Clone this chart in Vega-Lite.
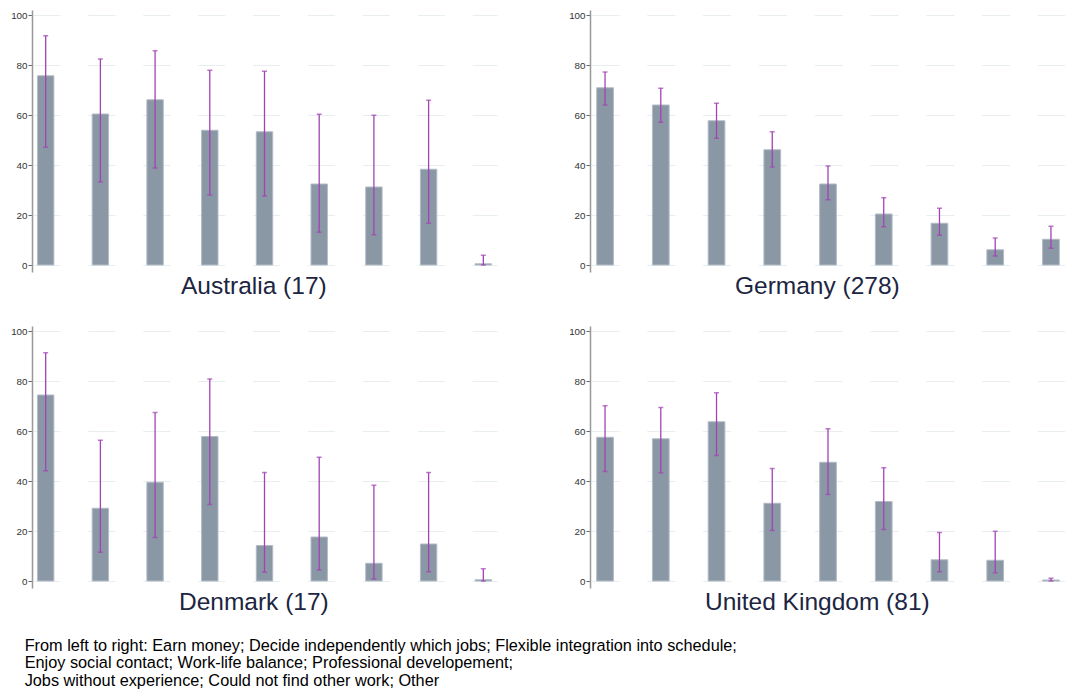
{
  "$schema": "https://vega.github.io/schema/vega-lite/v6.json",
  "background": "white",
  "padding": {"left": 10, "top": 9, "right": 0, "bottom": 0},
  "title": {
    "text": [
      "From left to right: Earn money; Decide independently which jobs; Flexible integration into schedule;",
      "Enjoy social contact; Work-life balance; Professional developement;",
      "Jobs without experience; Could not find other work; Other"
    ],
    "orient": "bottom", "anchor": "start", "frame": "bounds",
    "font": "Liberation Sans", "fontSize": 16.3, "fontWeight": "normal", "color": "#000000",
    "lineHeight": 17.8, "offset": 23, "dx": 14
  },
  "data": {"values": [
    {"country": "Australia", "reason": "Earn money", "pct": 75.7, "lo": 47.1, "hi": 91.7},
    {"country": "Australia", "reason": "Decide independently which jobs", "pct": 60.4, "lo": 33.2, "hi": 82.4},
    {"country": "Australia", "reason": "Flexible integration into schedule", "pct": 66.1, "lo": 38.8, "hi": 85.7},
    {"country": "Australia", "reason": "Enjoy social contact", "pct": 53.9, "lo": 28.0, "hi": 77.9},
    {"country": "Australia", "reason": "Work-life balance", "pct": 53.3, "lo": 27.6, "hi": 77.5},
    {"country": "Australia", "reason": "Professional developement", "pct": 32.4, "lo": 13.1, "hi": 60.3},
    {"country": "Australia", "reason": "Jobs without experience", "pct": 31.2, "lo": 12.1, "hi": 59.9},
    {"country": "Australia", "reason": "Could not find other work", "pct": 38.3, "lo": 16.7, "hi": 65.9},
    {"country": "Australia", "reason": "Other", "pct": 0.5, "lo": 0.0, "hi": 3.9},
    {"country": "Germany", "reason": "Earn money", "pct": 70.9, "lo": 64.0, "hi": 77.2},
    {"country": "Germany", "reason": "Decide independently which jobs", "pct": 64.0, "lo": 57.1, "hi": 70.7},
    {"country": "Germany", "reason": "Flexible integration into schedule", "pct": 57.7, "lo": 50.7, "hi": 64.7},
    {"country": "Germany", "reason": "Enjoy social contact", "pct": 46.1, "lo": 39.2, "hi": 53.3},
    {"country": "Germany", "reason": "Work-life balance", "pct": 32.4, "lo": 26.1, "hi": 39.6},
    {"country": "Germany", "reason": "Professional developement", "pct": 20.4, "lo": 15.3, "hi": 26.9},
    {"country": "Germany", "reason": "Jobs without experience", "pct": 16.7, "lo": 11.9, "hi": 22.7},
    {"country": "Germany", "reason": "Could not find other work", "pct": 6.1, "lo": 3.6, "hi": 10.8},
    {"country": "Germany", "reason": "Other", "pct": 10.3, "lo": 6.7, "hi": 15.5},
    {"country": "Denmark", "reason": "Earn money", "pct": 74.4, "lo": 44.1, "hi": 91.3},
    {"country": "Denmark", "reason": "Decide independently which jobs", "pct": 29.1, "lo": 11.5, "hi": 56.3},
    {"country": "Denmark", "reason": "Flexible integration into schedule", "pct": 39.5, "lo": 17.4, "hi": 67.4},
    {"country": "Denmark", "reason": "Enjoy social contact", "pct": 57.8, "lo": 30.6, "hi": 80.8},
    {"country": "Denmark", "reason": "Work-life balance", "pct": 14.2, "lo": 3.5, "hi": 43.4},
    {"country": "Denmark", "reason": "Professional developement", "pct": 17.6, "lo": 4.4, "hi": 49.5},
    {"country": "Denmark", "reason": "Jobs without experience", "pct": 7.1, "lo": 0.8, "hi": 38.3},
    {"country": "Denmark", "reason": "Could not find other work", "pct": 14.8, "lo": 3.7, "hi": 43.4},
    {"country": "Denmark", "reason": "Other", "pct": 0.5, "lo": 0.0, "hi": 4.9},
    {"country": "United Kingdom", "reason": "Earn money", "pct": 57.5, "lo": 43.8, "hi": 70.1},
    {"country": "United Kingdom", "reason": "Decide independently which jobs", "pct": 56.9, "lo": 43.3, "hi": 69.4},
    {"country": "United Kingdom", "reason": "Flexible integration into schedule", "pct": 63.7, "lo": 50.2, "hi": 75.3},
    {"country": "United Kingdom", "reason": "Enjoy social contact", "pct": 31.1, "lo": 20.2, "hi": 45.0},
    {"country": "United Kingdom", "reason": "Work-life balance", "pct": 47.5, "lo": 34.6, "hi": 60.9},
    {"country": "United Kingdom", "reason": "Professional developement", "pct": 31.8, "lo": 20.6, "hi": 45.3},
    {"country": "United Kingdom", "reason": "Jobs without experience", "pct": 8.5, "lo": 3.7, "hi": 19.4},
    {"country": "United Kingdom", "reason": "Could not find other work", "pct": 8.3, "lo": 3.3, "hi": 19.9},
    {"country": "United Kingdom", "reason": "Other", "pct": 0.4, "lo": 0.0, "hi": 1.1}
  ]},
  "spacing": 26,
  "vconcat": [
    {"hconcat": [
      {
        "width": 465, "height": 262,
        "title": {"text": "Australia (17)"},
        "transform": [{"filter": "datum.country === 'Australia'"}],
        "encoding": {"x": {"field": "reason", "type": "nominal", "sort": null, "scale": {"paddingInner": 0.7, "paddingOuter": 0.1}, "axis": null}},
        "layer": [
          {"mark": {"type": "bar", "fill": "#8a97a5", "stroke": "#b3bcc6", "strokeWidth": 1},
           "encoding": {"y": {"field": "pct", "type": "quantitative", "scale": {"domain": [-2.8, 102], "nice": false, "zero": false}, "axis": {"title": null, "gridDash": [27, 27.9], "gridDashOffset": 53.9}}, "y2": {"datum": 0}}},
          {"mark": {"type": "rule", "color": "#a243b4", "strokeWidth": 1.3},
           "encoding": {"y": {"field": "lo", "type": "quantitative", "axis": {"title": null, "gridDash": [27, 27.9], "gridDashOffset": 53.9}}, "y2": {"field": "hi"}}},
          {"mark": {"type": "tick", "orient": "horizontal", "color": "#a243b4", "size": 5, "thickness": 1.5},
           "encoding": {"y": {"field": "lo", "type": "quantitative", "axis": {"title": null, "gridDash": [27, 27.9], "gridDashOffset": 53.9}}}},
          {"mark": {"type": "tick", "orient": "horizontal", "color": "#a243b4", "size": 5, "thickness": 1.5},
           "encoding": {"y": {"field": "hi", "type": "quantitative", "axis": {"title": null, "gridDash": [27, 27.9], "gridDashOffset": 53.9}}}}
        ]
      },
      {
        "width": 476, "height": 262,
        "title": {"text": "Germany (278)"},
        "transform": [{"filter": "datum.country === 'Germany'"}],
        "encoding": {"x": {"field": "reason", "type": "nominal", "sort": null, "scale": {"paddingInner": 0.7, "paddingOuter": 0.12}, "axis": null}},
        "layer": [
          {"mark": {"type": "bar", "fill": "#8a97a5", "stroke": "#b3bcc6", "strokeWidth": 1},
           "encoding": {"y": {"field": "pct", "type": "quantitative", "scale": {"domain": [-2.8, 102], "nice": false, "zero": false}, "axis": {"title": null, "gridDash": [28, 27.8], "gridDashOffset": 54.8}}, "y2": {"datum": 0}}},
          {"mark": {"type": "rule", "color": "#a243b4", "strokeWidth": 1.3},
           "encoding": {"y": {"field": "lo", "type": "quantitative", "axis": {"title": null, "gridDash": [28, 27.8], "gridDashOffset": 54.8}}, "y2": {"field": "hi"}}},
          {"mark": {"type": "tick", "orient": "horizontal", "color": "#a243b4", "size": 5, "thickness": 1.5},
           "encoding": {"y": {"field": "lo", "type": "quantitative", "axis": {"title": null, "gridDash": [28, 27.8], "gridDashOffset": 54.8}}}},
          {"mark": {"type": "tick", "orient": "horizontal", "color": "#a243b4", "size": 5, "thickness": 1.5},
           "encoding": {"y": {"field": "hi", "type": "quantitative", "axis": {"title": null, "gridDash": [28, 27.8], "gridDashOffset": 54.8}}}}
        ]
      }
    ], "spacing": 71},
    {"hconcat": [
      {
        "width": 465, "height": 262,
        "title": {"text": "Denmark (17)"},
        "transform": [{"filter": "datum.country === 'Denmark'"}],
        "encoding": {"x": {"field": "reason", "type": "nominal", "sort": null, "scale": {"paddingInner": 0.7, "paddingOuter": 0.1}, "axis": null}},
        "layer": [
          {"mark": {"type": "bar", "fill": "#8a97a5", "stroke": "#b3bcc6", "strokeWidth": 1},
           "encoding": {"y": {"field": "pct", "type": "quantitative", "scale": {"domain": [-2.8, 102], "nice": false, "zero": false}, "axis": {"title": null, "gridDash": [27, 27.9], "gridDashOffset": 53.9}}, "y2": {"datum": 0}}},
          {"mark": {"type": "rule", "color": "#a243b4", "strokeWidth": 1.3},
           "encoding": {"y": {"field": "lo", "type": "quantitative", "axis": {"title": null, "gridDash": [27, 27.9], "gridDashOffset": 53.9}}, "y2": {"field": "hi"}}},
          {"mark": {"type": "tick", "orient": "horizontal", "color": "#a243b4", "size": 5, "thickness": 1.5},
           "encoding": {"y": {"field": "lo", "type": "quantitative", "axis": {"title": null, "gridDash": [27, 27.9], "gridDashOffset": 53.9}}}},
          {"mark": {"type": "tick", "orient": "horizontal", "color": "#a243b4", "size": 5, "thickness": 1.5},
           "encoding": {"y": {"field": "hi", "type": "quantitative", "axis": {"title": null, "gridDash": [27, 27.9], "gridDashOffset": 53.9}}}}
        ]
      },
      {
        "width": 476, "height": 262,
        "title": {"text": "United Kingdom (81)"},
        "transform": [{"filter": "datum.country === 'United Kingdom'"}],
        "encoding": {"x": {"field": "reason", "type": "nominal", "sort": null, "scale": {"paddingInner": 0.7, "paddingOuter": 0.12}, "axis": null}},
        "layer": [
          {"mark": {"type": "bar", "fill": "#8a97a5", "stroke": "#b3bcc6", "strokeWidth": 1},
           "encoding": {"y": {"field": "pct", "type": "quantitative", "scale": {"domain": [-2.8, 102], "nice": false, "zero": false}, "axis": {"title": null, "gridDash": [28, 27.8], "gridDashOffset": 54.8}}, "y2": {"datum": 0}}},
          {"mark": {"type": "rule", "color": "#a243b4", "strokeWidth": 1.3},
           "encoding": {"y": {"field": "lo", "type": "quantitative", "axis": {"title": null, "gridDash": [28, 27.8], "gridDashOffset": 54.8}}, "y2": {"field": "hi"}}},
          {"mark": {"type": "tick", "orient": "horizontal", "color": "#a243b4", "size": 5, "thickness": 1.5},
           "encoding": {"y": {"field": "lo", "type": "quantitative", "axis": {"title": null, "gridDash": [28, 27.8], "gridDashOffset": 54.8}}}},
          {"mark": {"type": "tick", "orient": "horizontal", "color": "#a243b4", "size": 5, "thickness": 1.5},
           "encoding": {"y": {"field": "hi", "type": "quantitative", "axis": {"title": null, "gridDash": [28, 27.8], "gridDashOffset": 54.8}}}}
        ]
      }
    ], "spacing": 71}
  ],
  "config": {
    "view": {"stroke": null},
    "title": {"orient": "bottom", "anchor": "middle", "frame": "bounds", "font": "Liberation Sans", "fontSize": 24.5, "fontWeight": "normal", "color": "#1c2541", "offset": 3},
    "axisY": {
      "values": [0, 20, 40, 60, 80, 100],
      "domainColor": "#999999", "domainWidth": 1.5,
      "tickColor": "#666666", "tickSize": 4, "tickWidth": 1,
      "labelFont": "Liberation Sans", "labelFontSize": 9.8, "labelColor": "#333333", "labelPadding": 1,
      "grid": true, "gridColor": "#e8eeef", "gridWidth": 1
    }
  }
}
